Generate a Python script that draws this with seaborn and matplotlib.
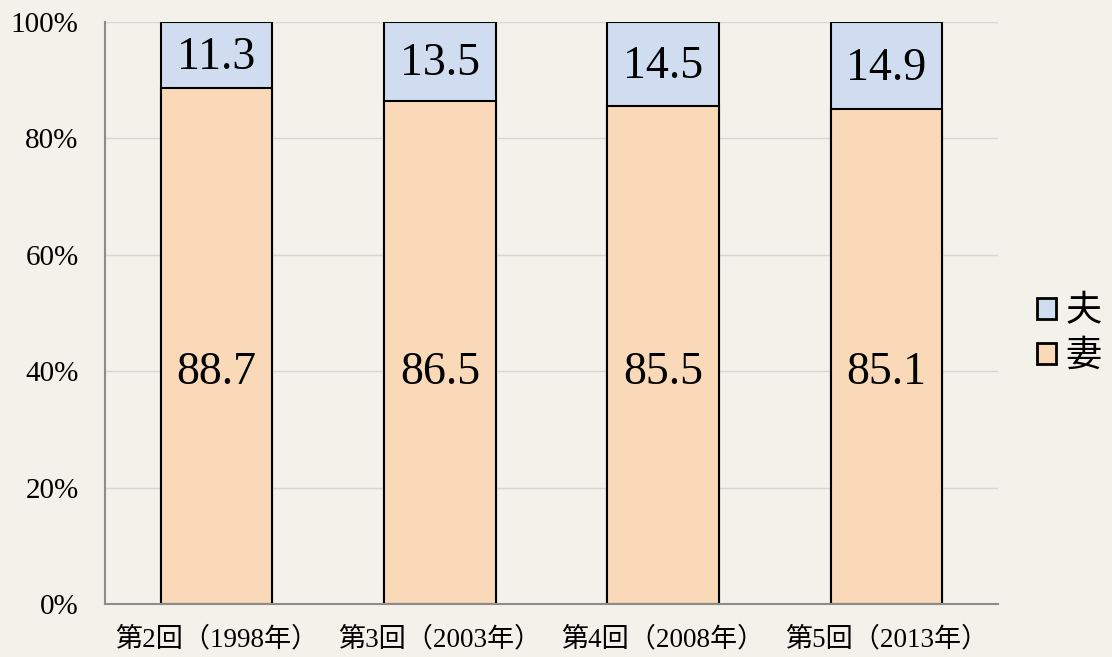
import matplotlib
matplotlib.use("Agg")
import matplotlib.pyplot as plt
import matplotlib.patches as mpatches
import seaborn as sns
import pandas as pd
import numpy as np

# =====================================================
# DATA
# =====================================================

categories = ["第2回（1998年）", "第3回（2003年）", "第4回（2008年）", "第5回（2013年）"]
wife = [88.7, 86.5, 85.5, 85.1]
husband = [11.3, 13.5, 14.5, 14.9]
y_ticks = [0, 20, 40, 60, 80, 100]

df = pd.DataFrame({"回": categories, "妻": wife, "夫": husband})
df["合計"] = df["妻"] + df["夫"]

# =====================================================
# STYLE
# =====================================================

bg = "#F2F1EA"
c_wife = "#FAD9B8"
c_husband = "#D0DDF1"

sns.set_theme(style="white")
plt.rcParams["font.family"] = ["Liberation Serif", "Noto Sans CJK JP"]
plt.rcParams["text.color"] = "black"
plt.rcParams["xtick.labelcolor"] = "black"
plt.rcParams["ytick.labelcolor"] = "black"

fig = plt.figure(figsize=(11.12, 6.57), dpi=100, facecolor=bg)
ax = fig.add_axes([0.0944, 0.0807, 0.8031, 0.8858])
ax.set_facecolor(bg)

# =====================================================
# STACKED BARS
# =====================================================

sns.barplot(data=df, x="回", y="合計", color=c_husband, width=0.5,
            edgecolor="black", linewidth=1.5, saturation=1, ax=ax)
sns.barplot(data=df, x="回", y="妻", color=c_wife, width=0.5,
            edgecolor="black", linewidth=1.5, saturation=1, ax=ax)

for i, (w, h) in enumerate(zip(wife, husband)):
    ax.text(i, 39.8, f"{w:.1f}", ha="center", va="center", fontsize=33)
    ax.text(i, w + h / 2 - 0.5, f"{h:.1f}", ha="center", va="center", fontsize=33)

# =====================================================
# AXES
# =====================================================

ax.set_xlim(-0.5, len(categories) - 0.5)
ax.set_ylim(0, 100)
ax.set_yticks(y_ticks)
ax.set_yticklabels([f"{t}%" for t in y_ticks], fontsize=21)
ax.set_xticks(range(len(categories)))
ax.set_xticklabels(categories, fontsize=19.5)
ax.set_xticks(np.arange(-0.5, len(categories)), minor=True)
ax.tick_params(axis="x", which="major", length=0, pad=16)
ax.tick_params(axis="x", which="minor", length=7, color="#8c8c8c", width=1.2)
ax.tick_params(axis="y", length=6, color="#8c8c8c", width=1.2, pad=13)
ax.set_xlabel("")
ax.set_ylabel("")

ax.yaxis.grid(True, color="#d6d6d6", linewidth=1)
ax.set_axisbelow(True)
for s in ["top", "right"]:
    ax.spines[s].set_visible(False)
for s in ["left", "bottom"]:
    ax.spines[s].set_color("#8c8c8c")
    ax.spines[s].set_linewidth(1.5)

# =====================================================
# LEGEND
# =====================================================

handles = [
    mpatches.Patch(facecolor=c_husband, edgecolor="black", linewidth=2, label="夫"),
    mpatches.Patch(facecolor=c_wife, edgecolor="black", linewidth=2, label="妻"),
]
fig.legend(handles=handles, loc="center left", bbox_to_anchor=(0.933, 0.49),
           frameon=False, fontsize=26, handlelength=0.52, handleheight=0.52,
           handletextpad=0.25, labelspacing=0.3, borderaxespad=0, borderpad=0)

fig.savefig("out.png", dpi=100, facecolor=bg)
